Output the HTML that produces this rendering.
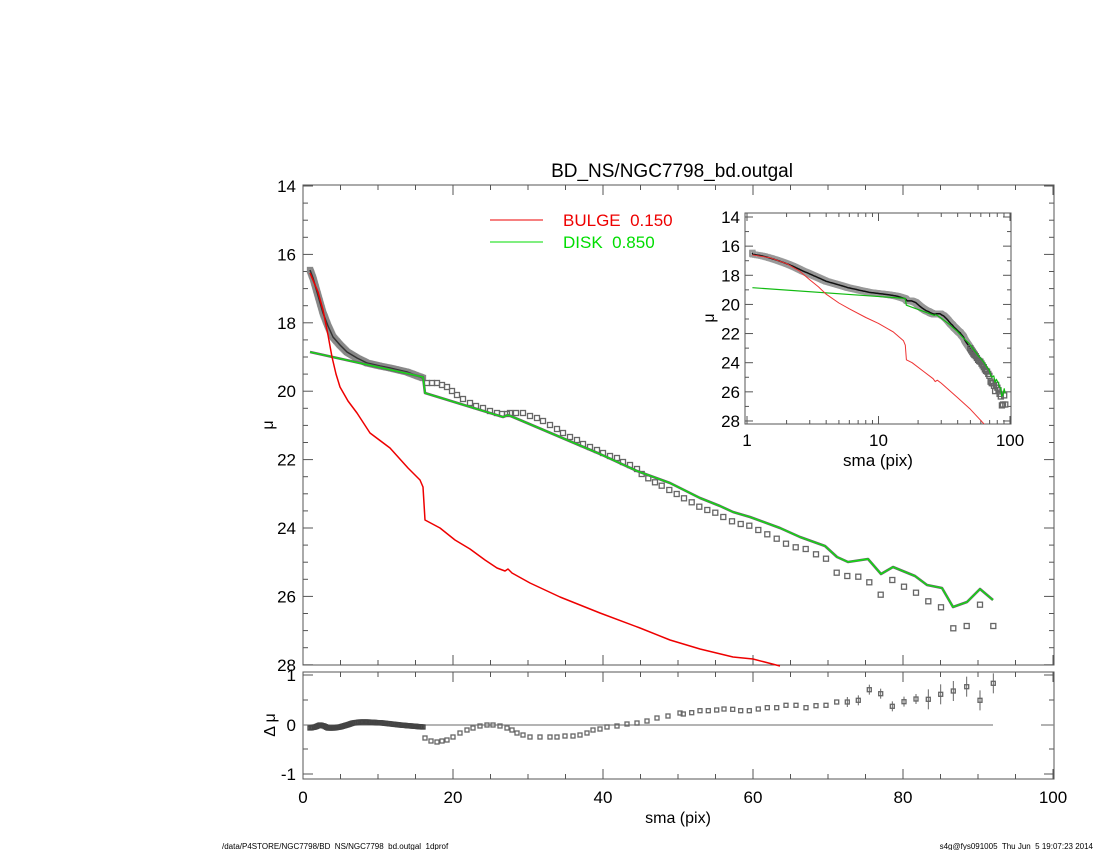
<!DOCTYPE html>
<html><head><meta charset="utf-8"><style>
html,body{margin:0;padding:0;background:#fff;}
svg{display:block;font-family:"Liberation Sans",sans-serif;}
</style></head><body>
<svg id="s" width="1100" height="850" xmlns="http://www.w3.org/2000/svg">
<rect width="1100" height="850" fill="#fff"/>
<text x="672" y="177" font-size="19" text-anchor="middle">BD_NS/NGC7798_bd.outgal</text>
<line x1="490" y1="220" x2="543" y2="220" stroke="#e00" stroke-width="1"/>
<text x="563" y="226" font-size="17" fill="#e00" xml:space="preserve">BULGE  0.150</text>
<line x1="490" y1="242" x2="543" y2="242" stroke="#0d0" stroke-width="1"/>
<text x="563" y="248" font-size="17" fill="#0d0" xml:space="preserve">DISK  0.850</text>
<text x="268" y="430" font-size="16" text-anchor="middle" transform="rotate(-90 268 425)">μ</text>
<text x="270" y="730" font-size="16" text-anchor="middle" transform="rotate(-90 270 725)">Δ μ</text>
<text x="678" y="823" font-size="16" text-anchor="middle">sma (pix)</text>
<text x="222" y="849" font-size="8">/data/P4STORE/NGC7798/BD_NS/NGC7798_bd.outgal_1dprof</text>
<text x="1093" y="849" font-size="8" text-anchor="end" xml:space="preserve">s4g@fys091005  Thu Jun  5 19:07:23 2014</text>
<g id="g"></g>
</svg>
<script>
var g=document.getElementById('g'),h='';
function L(x1,y1,x2,y2,c,w){h+='<line x1="'+x1+'" y1="'+y1+'" x2="'+x2+'" y2="'+y2+'" stroke="'+(c||'#555')+'" stroke-width="'+(w||1)+'"/>';}
function T(x,y,t,a,s){h+='<text x="'+x+'" y="'+y+'" font-size="'+(s||16)+'" text-anchor="'+(a||'middle')+'">'+t+'</text>';}
function P(pts,c,w,op){h+='<polyline fill="none" stroke="'+c+'" stroke-width="'+w+'" stroke-linejoin="round" opacity="'+(op||1)+'" points="'+pts.map(function(p){return p[0].toFixed(1)+','+p[1].toFixed(1)}).join(' ')+'"/>';}
function S(x,y,sz,c){h+='<rect x="'+(x-sz/2).toFixed(1)+'" y="'+(y-sz/2).toFixed(1)+'" width="'+sz+'" height="'+sz+'" fill="none" stroke="'+(c||'#666')+'" stroke-width="1.3"/>';}
function dens(pts,step){var o=[];for(var i=0;i<pts.length-1;i++){var a=pts[i],b=pts[i+1],d=Math.hypot(b[0]-a[0],b[1]-a[1]),n=Math.max(1,Math.round(d/step));for(var j=0;j<n;j++)o.push([a[0]+(b[0]-a[0])*j/n,a[1]+(b[1]-a[1])*j/n]);}o.push(pts[pts.length-1]);return o;}
var X0=303,X1=1054,YT=185,YB=665;
h+='<rect x="303" y="185" width="751" height="480" fill="none" stroke="#555"/>';
for(var v=0;v<=100;v+=5){var x=X0+v*7.5;var m=v%20==0;L(x,YB,x,YB-(m?10:5));L(x,YT,x,YT+(m?10:5));L(x,672,x,672+(m?10:5));L(x,779,x,779-(m?10:5));if(m)T(x,803,v,'middle',17);}
for(var u=14;u<=28;u+=0.5){var y=186+(u-14)*34.2;var m=u%2==0;L(X0,y,X0+(m?10:5),y);L(X1,y,X1-(m?10:5),y);if(m)T(296,y+6,u,'end',17);}
h+='<rect x="303" y="672" width="751" height="107" fill="none" stroke="#555"/>';
[[1,675],[0,725],[-1,774]].forEach(function(a){L(X0,a[1],X0+10,a[1]);L(X1,a[1],X1-10,a[1]);T(296,a[1]+6,a[0],'end',17);});
[700,749].forEach(function(y){L(X0,y,X0+5,y);L(X1,y,X1-5,y);});
L(303,725,993,725,'#888',1.3);L(1041,725,1054,725,'#888',1.3);
var red=[[310,273],[318,292],[323,310],[328,335],[332,357],[336,374],[340,387],[348,401],[357,413],[370,433],[390,448],[408,468],[420,480],[423,487],[425,520],[440,528],[455,540],[470,549],[485,560],[497,568],[505,571],[508,569],[512,573],[530,583],[560,597],[600,613],[640,628],[670,640],[700,649],[733,657],[753,659],[780,666]];
var green=[[310,352],[423,377],[425,393],[503,417],[508,415],[520,420],[560,437],[600,454],[637,471],[670,483],[700,498],[720,506],[733,512],[750,517],[780,528],[800,537],[825,546],[837,557],[848,562],[868,559],[881,574],[893,567],[915,576],[927,585],[942,588],[953,607],[967,602],[980,589],[993,600]];
var band=[[310,270],[313,278],[317,292],[323,313],[328,326],[333,337],[340,345],[347,352],[357,358],[367,363],[380,366],[390,368],[407,372],[423,378]];
var sq=[[427,383],[432,383],[437,383],[442,385],[447,387],[452,391],[457,395],[463,399],[470,403],[476,406],[483,408],[490,411],[497,413],[502,414],[507,414],[510,413],[516,413],[523,413],[530,416],[537,418],[543,421],[550,425],[557,429],[563,433],[570,437],[577,440],[583,444],[590,447],[597,450],[603,453],[610,456],[617,458],[623,462],[630,465],[637,469]];
[[5,102],[25,115],[45,127],[65,137],[88,150],[110,162],[132,175],[155,187],[178,200],[202,210],[226,218],[250,231],[276,244],[302,252],[328,257],[355,270],[382,283],[410,296],[438,311],[467,322],[497,327],[528,343],[558,356],[590,398],[622,408],[655,410],[688,427],[722,464],[757,420],[792,440],[828,458],[865,484],[903,502],[940,565],[980,558],[1020,494],[1060,558]].forEach(function(p){sq.push([640+p[0]/3,440+p[1]/3]);});
dens(band,1.2).forEach(function(p){S(p[0],p[1],5,'#888');});
P(band,'#333',1.5);
sq.forEach(function(p){S(p[0],p[1],5);});
P(green,'#666',2.6);P(green,'#11dd11',1.4);
P(red,'#e00',1.5);
var rb=[[310,728],[315,727],[320,725],[324,726],[328,728],[334,728],[340,727],[347,725],[353,723],[360,722],[368,722],[383,723],[400,725],[423,727]];
dens(rb,1.3).forEach(function(p){S(p[0],p[1],4,'#444');});
var rs=[[425,738],[431,741],[437,742],[442,741],[447,740],[453,737],[460,733],[467,730],[473,728],[480,726],[487,725],[493,725],[500,726],[507,728],[512,730],[517,733],[523,735],[530,737],[540,737],[550,737],[557,737],[565,736],[573,736],[580,735],[587,733],[593,730],[600,729],[607,727],[617,726],[627,724],[637,723],[647,721],[657,718],[668,716],[680,713]];
[[10,147],[35,143],[60,137],[85,137],[110,135],[132,132],[158,133],[182,137],[208,137],[235,132],[262,128],[290,128],[318,121],[348,121],[378,128],[408,122],[438,121],[470,111],[502,111],[535,106],[568,74],[602,86],[637,124],[672,110],[708,102],[745,103],[782,88],[820,78],[860,65],[900,106],[940,55]].forEach(function(p,i){var x=680+p[0]/3,y=665+p[1]/3;if(i>=18){var e=i>=25?10:5;L(x,y-e,x,y+e,'#666',1);}rs.push([x,y]);});
rs.forEach(function(p){S(p[0],p[1],4);});
var IX0=745,IX1=1011,IT=213,IB=424;
h+='<rect x="745" y="213" width="266" height="211" fill="#fff" stroke="#555"/>';
function ix(s){return 747+131.5*Math.log10(s);}function iy(m){return 217+(m-14)*14.57;}
for(var d=1;d<=100;d*=10)for(var k=1;k<10;k++){var s=d*k;if(s>100)break;var x=ix(s);if(x<IX0||x>IX1)continue;var m=k==1;L(x,IB,x,IB-(m?8:4));L(x,IT,x,IT+(m?8:4));if(m&&s<100)T(x,446,s,'middle',17);}
T(1010,446,100,'middle',17);
for(var u=14;u<=28;u++){var y=iy(u),m=u%2==0;L(IX0,y,IX0+(m?8:4),y);L(IX1,y,IX1-(m?8:4),y);if(m)T(740,y+6,u,'end',17);}
T(878,466,'sma (pix)','middle',17);
h+='<text x="709" y="323" font-size="16" text-anchor="middle" transform="rotate(-90 709 318)">μ</text>';
function conv(arr){return arr.map(function(p){var s=(p[0]-303)/7.5,m=14+(p[1]-186)/34.2;return [ix(Math.max(s,1.1)),Math.min(iy(m),IB)];});}
h+='<clipPath id="ic"><rect x="745" y="213" width="266" height="211"/></clipPath><g clip-path="url(#ic)">';
var all=band.concat(sq);
var ib=conv(dens(all.slice(0,band.length+45),1));
ib.forEach(function(p){S(p[0],p[1],5,'#999');});
P(ib,'#111',1.5);
conv(all.slice(band.length+40)).forEach(function(p){S(p[0],p[1],5);});
P(conv(green),'#1b1',1.2);
var ir=[[1.1,16.6],[1.5,16.8],[2,17.2],[2.5,17.7],[3,18.3],[3.5,18.8],[4,19.3],[5,19.9],[6,20.3],[8,20.9],[10,21.3],[13,21.9],[15.5,22.5],[16,22.8],[16.3,23.8],[18,24.0],[22,24.6],[26,25.1],[27,25.3],[28,25.2],[30,25.4],[40,26.4],[50,27.2],[65,28.3]];
P(ir.map(function(a){return [ix(a[0]),iy(a[1])]}),'#e33',1);
h+='</g>';
g.innerHTML=h;
</script>
</body></html>
